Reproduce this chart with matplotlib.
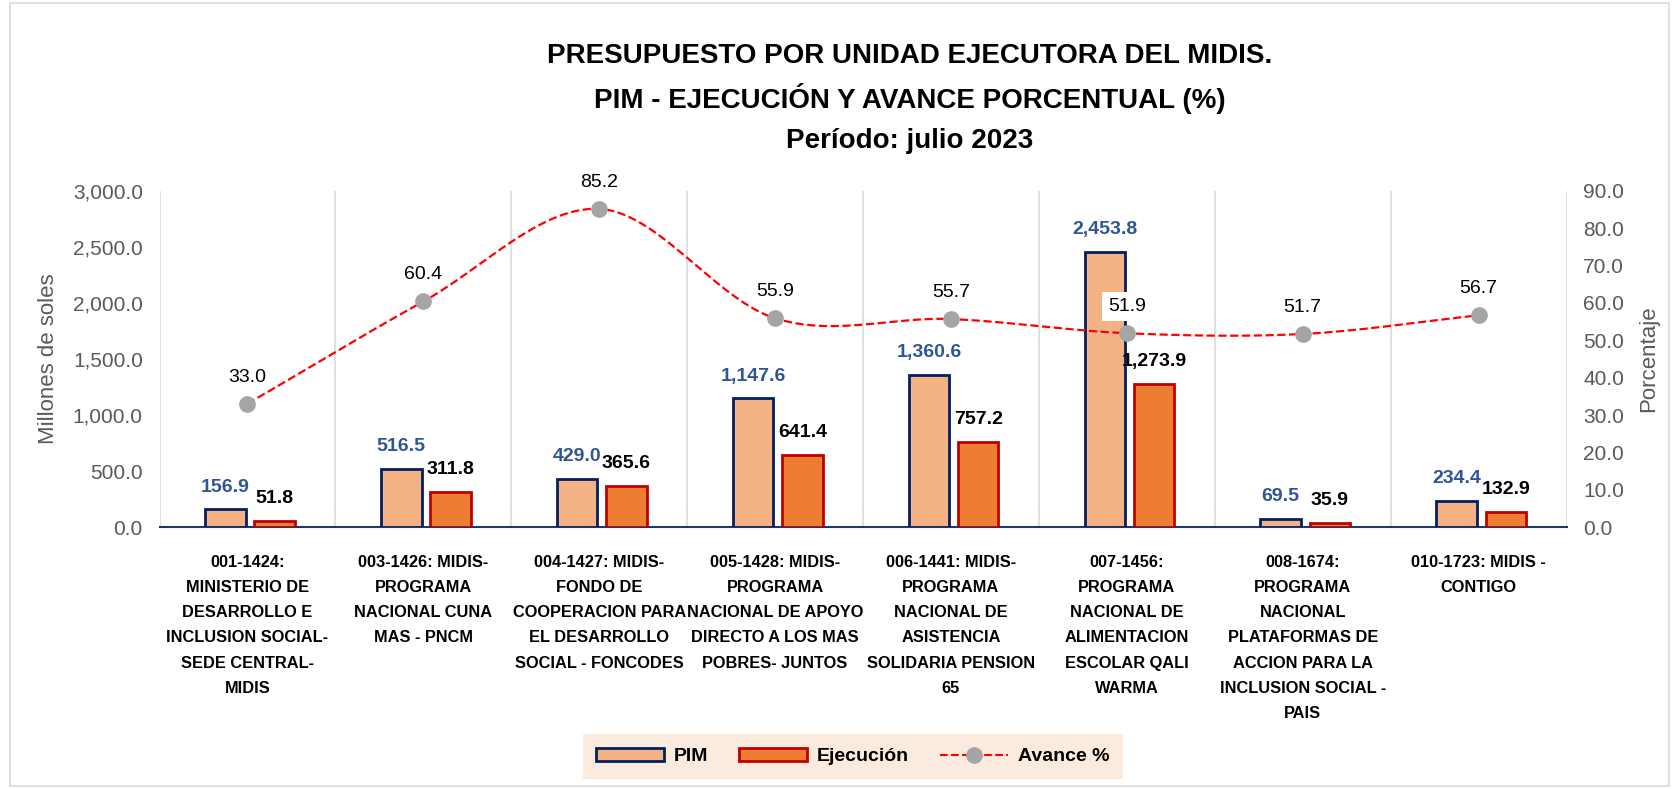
import matplotlib.pyplot as plt
import numpy as np
from matplotlib.patches import Rectangle
from matplotlib.lines import Line2D
from matplotlib.patches import Patch

plt.rcParams['font.family'] = ['Liberation Sans', 'DejaVu Sans']

# datos
unidades = [
    "001-1424:\nMINISTERIO DE\nDESARROLLO E\nINCLUSION SOCIAL-\nSEDE CENTRAL-\nMIDIS",
    "003-1426: MIDIS-\nPROGRAMA\nNACIONAL CUNA\nMAS - PNCM",
    "004-1427: MIDIS-\nFONDO DE\nCOOPERACION PARA\nEL DESARROLLO\nSOCIAL - FONCODES",
    "005-1428: MIDIS-\nPROGRAMA\nNACIONAL DE APOYO\nDIRECTO A LOS MAS\nPOBRES- JUNTOS",
    "006-1441: MIDIS-\nPROGRAMA\nNACIONAL DE\nASISTENCIA\nSOLIDARIA PENSION\n65",
    "007-1456:\nPROGRAMA\nNACIONAL DE\nALIMENTACION\nESCOLAR QALI\nWARMA",
    "008-1674:\nPROGRAMA\nNACIONAL\nPLATAFORMAS DE\nACCION PARA LA\nINCLUSION SOCIAL -\nPAIS",
    "010-1723: MIDIS -\nCONTIGO",
]
pim = [156.9, 516.5, 429.0, 1147.6, 1360.6, 2453.8, 69.5, 234.4]
ejecucion = [51.8, 311.8, 365.6, 641.4, 757.2, 1273.9, 35.9, 132.9]
avance = [33.0, 60.4, 85.2, 55.9, 55.7, 51.9, 51.7, 56.7]

c_pim = '#F4B183'
c_pim_borde = '#002060'
c_eje = '#ED7D31'
c_eje_borde = '#C00000'
c_azul = '#2F5597'
c_gris = '#595959'


def suavizar(x, y, n=30):
    # curva suave tipo Catmull-Rom entre los puntos
    x = np.asarray(x, float)
    y = np.asarray(y, float)
    px = np.concatenate([[2 * x[0] - x[1]], x, [2 * x[-1] - x[-2]]])
    py = np.concatenate([[2 * y[0] - y[1]], y, [2 * y[-1] - y[-2]]])
    xs, ys = [], []
    for i in range(1, len(px) - 2):
        t = np.linspace(0, 1, n)
        for p, out in ((px, xs), (py, ys)):
            p0, p1, p2, p3 = p[i - 1], p[i], p[i + 1], p[i + 2]
            out.extend(0.5 * ((2 * p1) + (-p0 + p2) * t + (2 * p0 - 5 * p1 + 4 * p2 - p3) * t ** 2
                              + (-p0 + 3 * p1 - 3 * p2 + p3) * t ** 3))
    return np.array(xs), np.array(ys)


fig = plt.figure(figsize=(16.79, 7.89), dpi=100)
ax = fig.add_axes([0.095, 0.332, 0.838, 0.426])
ax2 = ax.twinx()

x = np.arange(len(pim))
ancho = 0.23
d_pim, d_eje = -0.125, 0.155
ax.bar(x + d_pim, pim, ancho, color=c_pim, edgecolor=c_pim_borde, linewidth=2, zorder=3)
ax.bar(x + d_eje, ejecucion, ancho, color=c_eje, edgecolor=c_eje_borde, linewidth=2, zorder=3)

for i in range(len(pim)):
    ax.annotate(f"{pim[i]:,.1f}", (x[i] + d_pim, pim[i]), xytext=(0, 10), textcoords='offset points',
                ha='center', va='bottom', fontsize=14, fontweight='bold', color=c_azul)
    ax.annotate(f"{ejecucion[i]:,.1f}", (x[i] + d_eje, ejecucion[i]), xytext=(0, 10), textcoords='offset points',
                ha='center', va='bottom', fontsize=14, fontweight='bold', color='black')

ax.set_xlim(-0.5, len(pim) - 0.5)
ax.set_ylim(0, 3000)
ax.set_yticks(np.arange(0, 3001, 500))
ax.yaxis.set_major_formatter(plt.FuncFormatter(lambda v, p: f"{v:,.1f}"))
ax.set_xticks(x)
ax.set_xticklabels(unidades, fontsize=11.8, fontweight='bold', linespacing=1.85, va='top')
ax.tick_params(axis='x', length=0, pad=20)
ax.tick_params(axis='y', length=0, labelsize=15, labelcolor=c_gris, pad=12)
for b in np.arange(-0.5, len(pim), 1):
    ax.axvline(b, color='#D9D9D9', linewidth=1.2, zorder=0)
for s in ['top', 'left', 'right']:
    ax.spines[s].set_visible(False)
ax.spines['bottom'].set_color('#1F3864')
ax.spines['bottom'].set_linewidth(1.5)
ax.set_ylabel("Millones de soles", fontsize=16, color=c_gris, labelpad=10)

sx, sy = suavizar(x, avance)
ax2.plot(sx, sy, color='#FF0000', linestyle='--', linewidth=1.6, zorder=4)
ax2.plot(x, avance, linestyle='none', marker='o', markersize=11, color='#A5A5A5', zorder=5)
for i in range(len(avance)):
    ax2.annotate(f"{avance[i]:.1f}", (x[i], avance[i]), xytext=(0, 13), textcoords='offset points',
                 ha='center', va='bottom', fontsize=14, color='black',
                 bbox=dict(boxstyle='square,pad=0.3', fc='white', ec='none'))
ax2.set_ylim(0, 90)
ax2.set_yticks(np.arange(0, 91, 10))
ax2.yaxis.set_major_formatter(plt.FuncFormatter(lambda v, p: f"{v:.1f}"))
ax2.tick_params(axis='y', length=0, labelsize=15, labelcolor=c_gris, pad=12)
for s in ['top', 'left', 'right', 'bottom']:
    ax2.spines[s].set_visible(False)
ax2.set_ylabel("Porcentaje", fontsize=16, color=c_gris, labelpad=10)

fig.text(0.542, 0.929, "PRESUPUESTO POR UNIDAD EJECUTORA DEL MIDIS.", ha='center', va='center',
         fontsize=20, fontweight='bold')
fig.text(0.542, 0.875, "PIM - EJECUCIÓN Y AVANCE PORCENTUAL (%)", ha='center', va='center',
         fontsize=20, fontweight='bold')
fig.text(0.542, 0.821, "Período: julio 2023", ha='center', va='center',
         fontsize=20, fontweight='bold')

handles = [
    Patch(facecolor=c_pim, edgecolor=c_pim_borde, linewidth=2, label='PIM'),
    Patch(facecolor=c_eje, edgecolor=c_eje_borde, linewidth=2, label='Ejecución'),
    Line2D([0], [0], color='#FF0000', linestyle='--', marker='o', markersize=11,
           markerfacecolor='#A5A5A5', markeredgecolor='#A5A5A5', label='Avance %'),
]
leg = fig.legend(handles=handles, loc='center', bbox_to_anchor=(0.508, 0.041), ncol=3,
                 frameon=True, handlelength=3.5, columnspacing=1.6, handletextpad=0.5,
                 borderpad=0.7, prop={'weight': 'bold', 'size': 14})
leg.get_frame().set_facecolor('#FBE5D6')
leg.get_frame().set_edgecolor('none')
leg.get_frame().set_boxstyle('square', pad=0)

fig.patches.append(Rectangle((0.006, 0.004), 0.988, 0.992, transform=fig.transFigure,
                             fill=False, edgecolor='#D9D9D9', linewidth=1.2))

plt.savefig('out.png', dpi=100)
